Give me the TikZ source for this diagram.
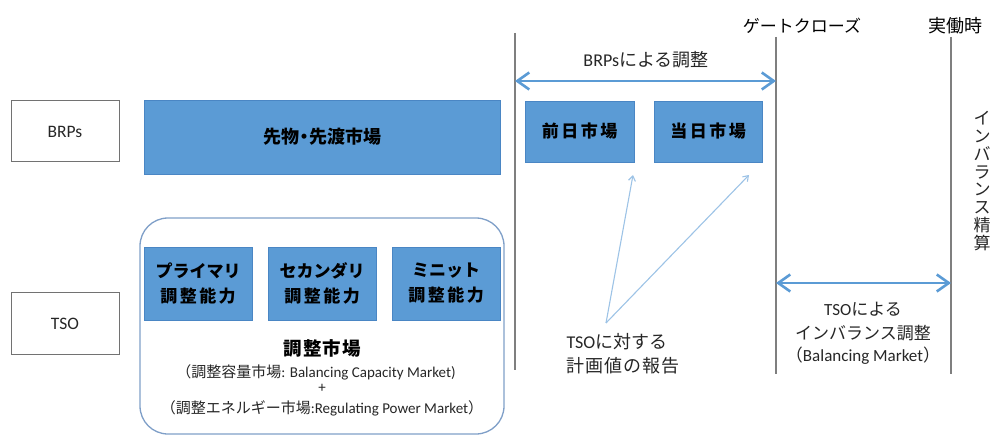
\documentclass[tikz,border=0pt]{standalone}
\usepackage{fontspec}
\setmainfont{Carlito}
\newfontfamily\jp{Noto Sans CJK JP}
\usetikzlibrary{arrows.meta}
\newcommand\jt[1]{{\jp #1}}
\newcommand\ks{\kern2.5pt}
\definecolor{obl}{HTML}{5B9BD5}
\definecolor{oblb}{HTML}{4A86C4}
\definecolor{lbl}{HTML}{9DC3E6}
\definecolor{rrb}{HTML}{7F9FC8}
\definecolor{gl}{HTML}{7F7F7F}
\definecolor{tx}{HTML}{262626}
\tikzset{
  actor/.style={draw=gl!110, line width=1pt, minimum width=108pt, minimum height=61pt, text=tx, font=\fontsize{17.5}{20}\selectfont},
  mkt/.style={fill=obl, draw=oblb, line width=0.7pt, text=black, font=\jp\bfseries\fontsize{17}{25}\selectfont, align=center},
  tline/.style={gl, line width=1.2pt},
  bigarr/.style={obl, line width=2.6pt, {Straight Barb[length=12pt,width=17pt]}-{Straight Barb[length=12pt,width=17pt]}},
  thinarr/.style={lbl, line width=1.1pt, -{Straight Barb[length=5pt,width=7pt]}},
  lab/.style={text=tx, font=\fontsize{17}{24}\selectfont, align=center},
  small/.style={text=tx, font=\fontsize{15}{16}\selectfont},
}
\begin{document}
\begin{tikzpicture}[x=1pt,y=-1pt]
\useasboundingbox (0,0) rectangle (992,435);
% actors
\node[actor] (brps) at (65,131.5) {BRPs};
\node[actor] (tso) at (65,323.5) {TSO};
% forward market
\node[mkt, minimum width=356pt, minimum height=74pt, font=\jp\bfseries\fontsize{18}{24}\selectfont] (fwd) at (322,137) {先物\kern-4pt・\kern-4pt 先渡市場};
% balancing market frame
\node[draw=rrb, line width=1.3pt, rounded corners=28pt, minimum width=364pt, minimum height=216pt] (bal) at (322,326) {};
\node[mkt, minimum width=108pt, minimum height=73pt] (pri) at (198,283.5) {プライマリ\\調\ks 整\ks 能\ks 力};
\node[mkt, minimum width=108pt, minimum height=73pt] (sec) at (322,283.5) {セカンダリ\\調\ks 整\ks 能\ks 力};
\node[mkt, minimum width=108pt, minimum height=73pt] (min) at (446,283.5) {ミニット\\調\ks 整\ks 能\ks 力};
\node[text=black, font=\jp\bfseries\fontsize{18.5}{20}\selectfont] (bmt) at (322,348) {調\kern1pt 整\kern1pt 市\kern1pt 場};
\node[small] (bm1) at (316,372) {\jt{（調整容量市場}: Balancing Capacity Market)};
\node[small] (bmp) at (322,388) {+};
\node[small] (bm2) at (322,408) {\jt{（調整エネルギー市場}:Regulating Power Market\jt{）}};
% day-ahead / intraday
\node[mkt, minimum width=109pt, minimum height=61pt] (da) at (579.5,131.5) {前\ks 日\ks 市\ks 場};
\node[mkt, minimum width=108pt, minimum height=61pt] (id) at (708,131.5) {当\ks 日\ks 市\ks 場};
% time lines
\coordinate (l1t) at (515,33); \coordinate (l1b) at (515,370);
\coordinate (gct) at (776,37); \coordinate (gcb) at (776,374);
\coordinate (rtt) at (951,37); \coordinate (rtb) at (951,374);
\draw[tline] (l1t) -- (l1b);
\draw[tline] (gct) -- (gcb);
\draw[tline] (rtt) -- (rtb);
\node[lab, text=black] (gcl) at (802,26) {\jt{ゲートクローズ}};
\node[lab, text=black, font=\fontsize{18}{20}\selectfont] (rtl) at (955,26) {\jt{実働時}};
% BRP adjustment arrow
\coordinate (ba1) at (515,81); \coordinate (ba2) at (776,81);
\draw[bigarr] (ba1) -- (ba2);
\node[lab, font=\fontsize{18}{24}\selectfont] (bal1) at (646,60) {BRPs\jt{による調整}};
% TSO arrow
\coordinate (ta1) at (776,283); \coordinate (ta2) at (951,283);
\draw[bigarr] (ta1) -- (ta2);
\node[lab] (tsol) at (863,333) {TSO\jt{による}\\\jt{インバランス調整}\\[-2pt]\jt{（}Balancing Market\jt{）}};
% report arrows
\coordinate (rep) at (606,323);
\coordinate (tip1) at (633,175);
\coordinate (tip2) at (749,175);
\draw[thinarr] (rep) -- (tip1);
\draw[thinarr] (rep) -- (tip2);
\node[lab, align=left, anchor=west, font=\fontsize{18}{24}\selectfont] (repl) at (563,354) {TSO\jt{に対する}\\\jt{計\kern1pt 画\kern1pt 値\kern1pt の\kern1pt 報\kern1pt 告}};
% vertical label
\node[text=tx, font=\jp\fontsize{17}{17.75}\selectfont, align=center] (imb) at (982,181) {イ\\ン\\バ\\ラ\\ン\\ス\\精\\算};
\end{tikzpicture}
\end{document}
